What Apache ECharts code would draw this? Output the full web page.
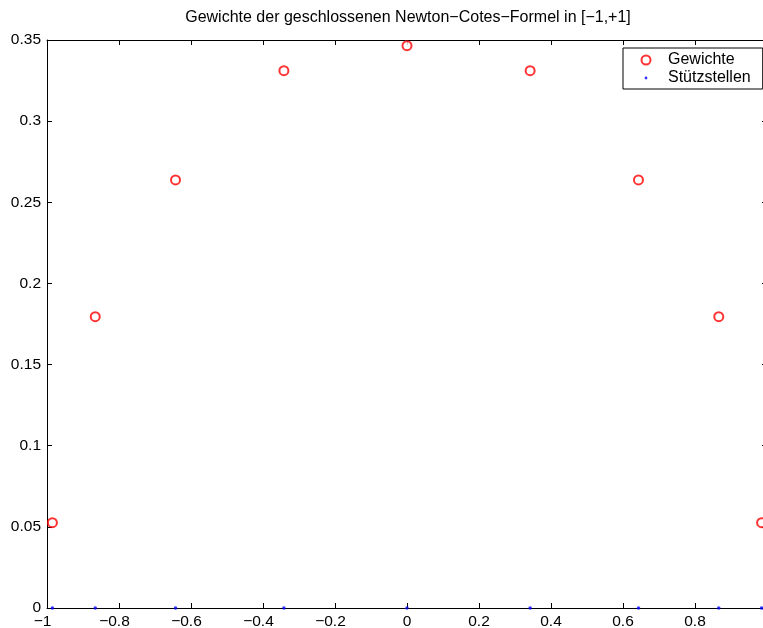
<!DOCTYPE html>
<html>
<head>
<meta charset="utf-8">
<script src="https://cdn.jsdelivr.net/npm/echarts@6/dist/echarts.min.js"></script>
<style>html,body{margin:0;padding:0;background:#fff;}#c{width:763px;height:628px;}</style>
</head>
<body>
<div id="c"></div>
<script>
const titleText = 'Gewichte der geschlossenen Newton\u2212Cotes\u2212Formel in [\u22121,+1]';
const nodes = [-0.985, -0.866, -0.643, -0.342, 0, 0.342, 0.643, 0.866, 0.985];
const weights = [0.0526, 0.1795, 0.2638, 0.3311, 0.3465, 0.3311, 0.2638, 0.1795, 0.0526];
const nodeValues = [0, 0, 0, 0, 0, 0, 0, 0, 0];
const seriesNames = ['Gewichte', 'St\u00fctzstellen'];
const xTicks = [-1, -0.8, -0.6, -0.4, -0.2, 0, 0.2, 0.4, 0.6, 0.8, 1];
const yTicks = [0, 0.05, 0.1, 0.15, 0.2, 0.25, 0.3, 0.35];

const FONT = 'Liberation Sans, Arial, Helvetica, sans-serif';
const chart = echarts.init(document.getElementById('c'), null, {renderer: 'canvas'});

function fmtX(v) {
  const r = Math.round(v * 10) / 10;
  if (r < 0) return '\u2212' + String(-r) + '{h|\u2212}';
  return String(r);
}
const grid = {left: 47, top: 40, right: -4, bottom: 20, containLabel: false, outerBoundsMode: 'none'};
function axisCommon() {
  return {
    axisLine: {show: true, onZero: false, lineStyle: {color: '#000', width: 1}},
    axisTick: {show: true, inside: true, length: 5, lineStyle: {color: '#000', width: 1}},
    splitLine: {show: false}
  };
}
chart.setOption({
  animation: false,
  backgroundColor: '#fff',
  title: {
    text: titleText, left: 403, top: 5, textAlign: 'center',
    textStyle: {fontFamily: FONT, fontSize: 16, fontWeight: 'normal', color: '#000'}
  },
  grid: grid,
  legend: {
    orient: 'vertical', left: 623, top: 48,
    borderColor: '#000', borderWidth: 1, backgroundColor: '#fff',
    padding: [3, 12, 2, 6], itemGap: 0,
    itemWidth: 34, itemHeight: 9,
    textStyle: {fontFamily: FONT, fontSize: 16, color: '#000', lineHeight: 18},
    data: [
      {name: seriesNames[0], icon: 'emptyCircle'},
      {name: seriesNames[1], icon: 'path://M0,0L0.01,0ZM34,9L33.99,9ZM15.6,4.5a1.4,1.4 0 1,0 2.8,0a1.4,1.4 0 1,0 -2.8,0Z'}
    ]
  },
  xAxis: [
    Object.assign({
      type: 'value', min: xTicks[0], max: xTicks[xTicks.length - 1], interval: 0.2, position: 'bottom',
      axisLabel: {
        margin: 6, formatter: fmtX, color: '#000', fontFamily: FONT, fontSize: 15.5,
        rich: {h: {color: 'rgba(0,0,0,0)', fontFamily: FONT, fontSize: 15.5}}
      }
    }, axisCommon()),
    Object.assign({
      type: 'value', min: xTicks[0], max: xTicks[xTicks.length - 1], interval: 0.2, position: 'top',
      axisLabel: {show: false}
    }, axisCommon())
  ],
  yAxis: [
    Object.assign({
      type: 'value', min: yTicks[0], max: yTicks[yTicks.length - 1], interval: 0.05, position: 'left',
      axisLabel: {margin: 6, color: '#000', fontFamily: FONT, fontSize: 15.5,
        formatter: v => String(Math.round(v * 100) / 100)}
    }, axisCommon()),
    Object.assign({
      type: 'value', min: yTicks[0], max: yTicks[yTicks.length - 1], interval: 0.05, position: 'right',
      axisLabel: {show: false}
    }, axisCommon())
  ],
  series: [
    {
      name: seriesNames[0], type: 'scatter', symbol: 'emptyCircle', symbolSize: 9, clip: false,
      itemStyle: {color: '#ff0000', borderColor: '#ff0000', borderWidth: 0.8},
      data: nodes.map((x, i) => [x, weights[i]]), z: 3
    },
    {
      name: seriesNames[1], type: 'scatter', symbol: 'circle', symbolSize: 3.5, clip: false,
      itemStyle: {color: '#0000ff'},
      data: nodes.map((x, i) => [x, nodeValues[i]]), z: 4
    }
  ]
});
</script>
</body>
</html>
